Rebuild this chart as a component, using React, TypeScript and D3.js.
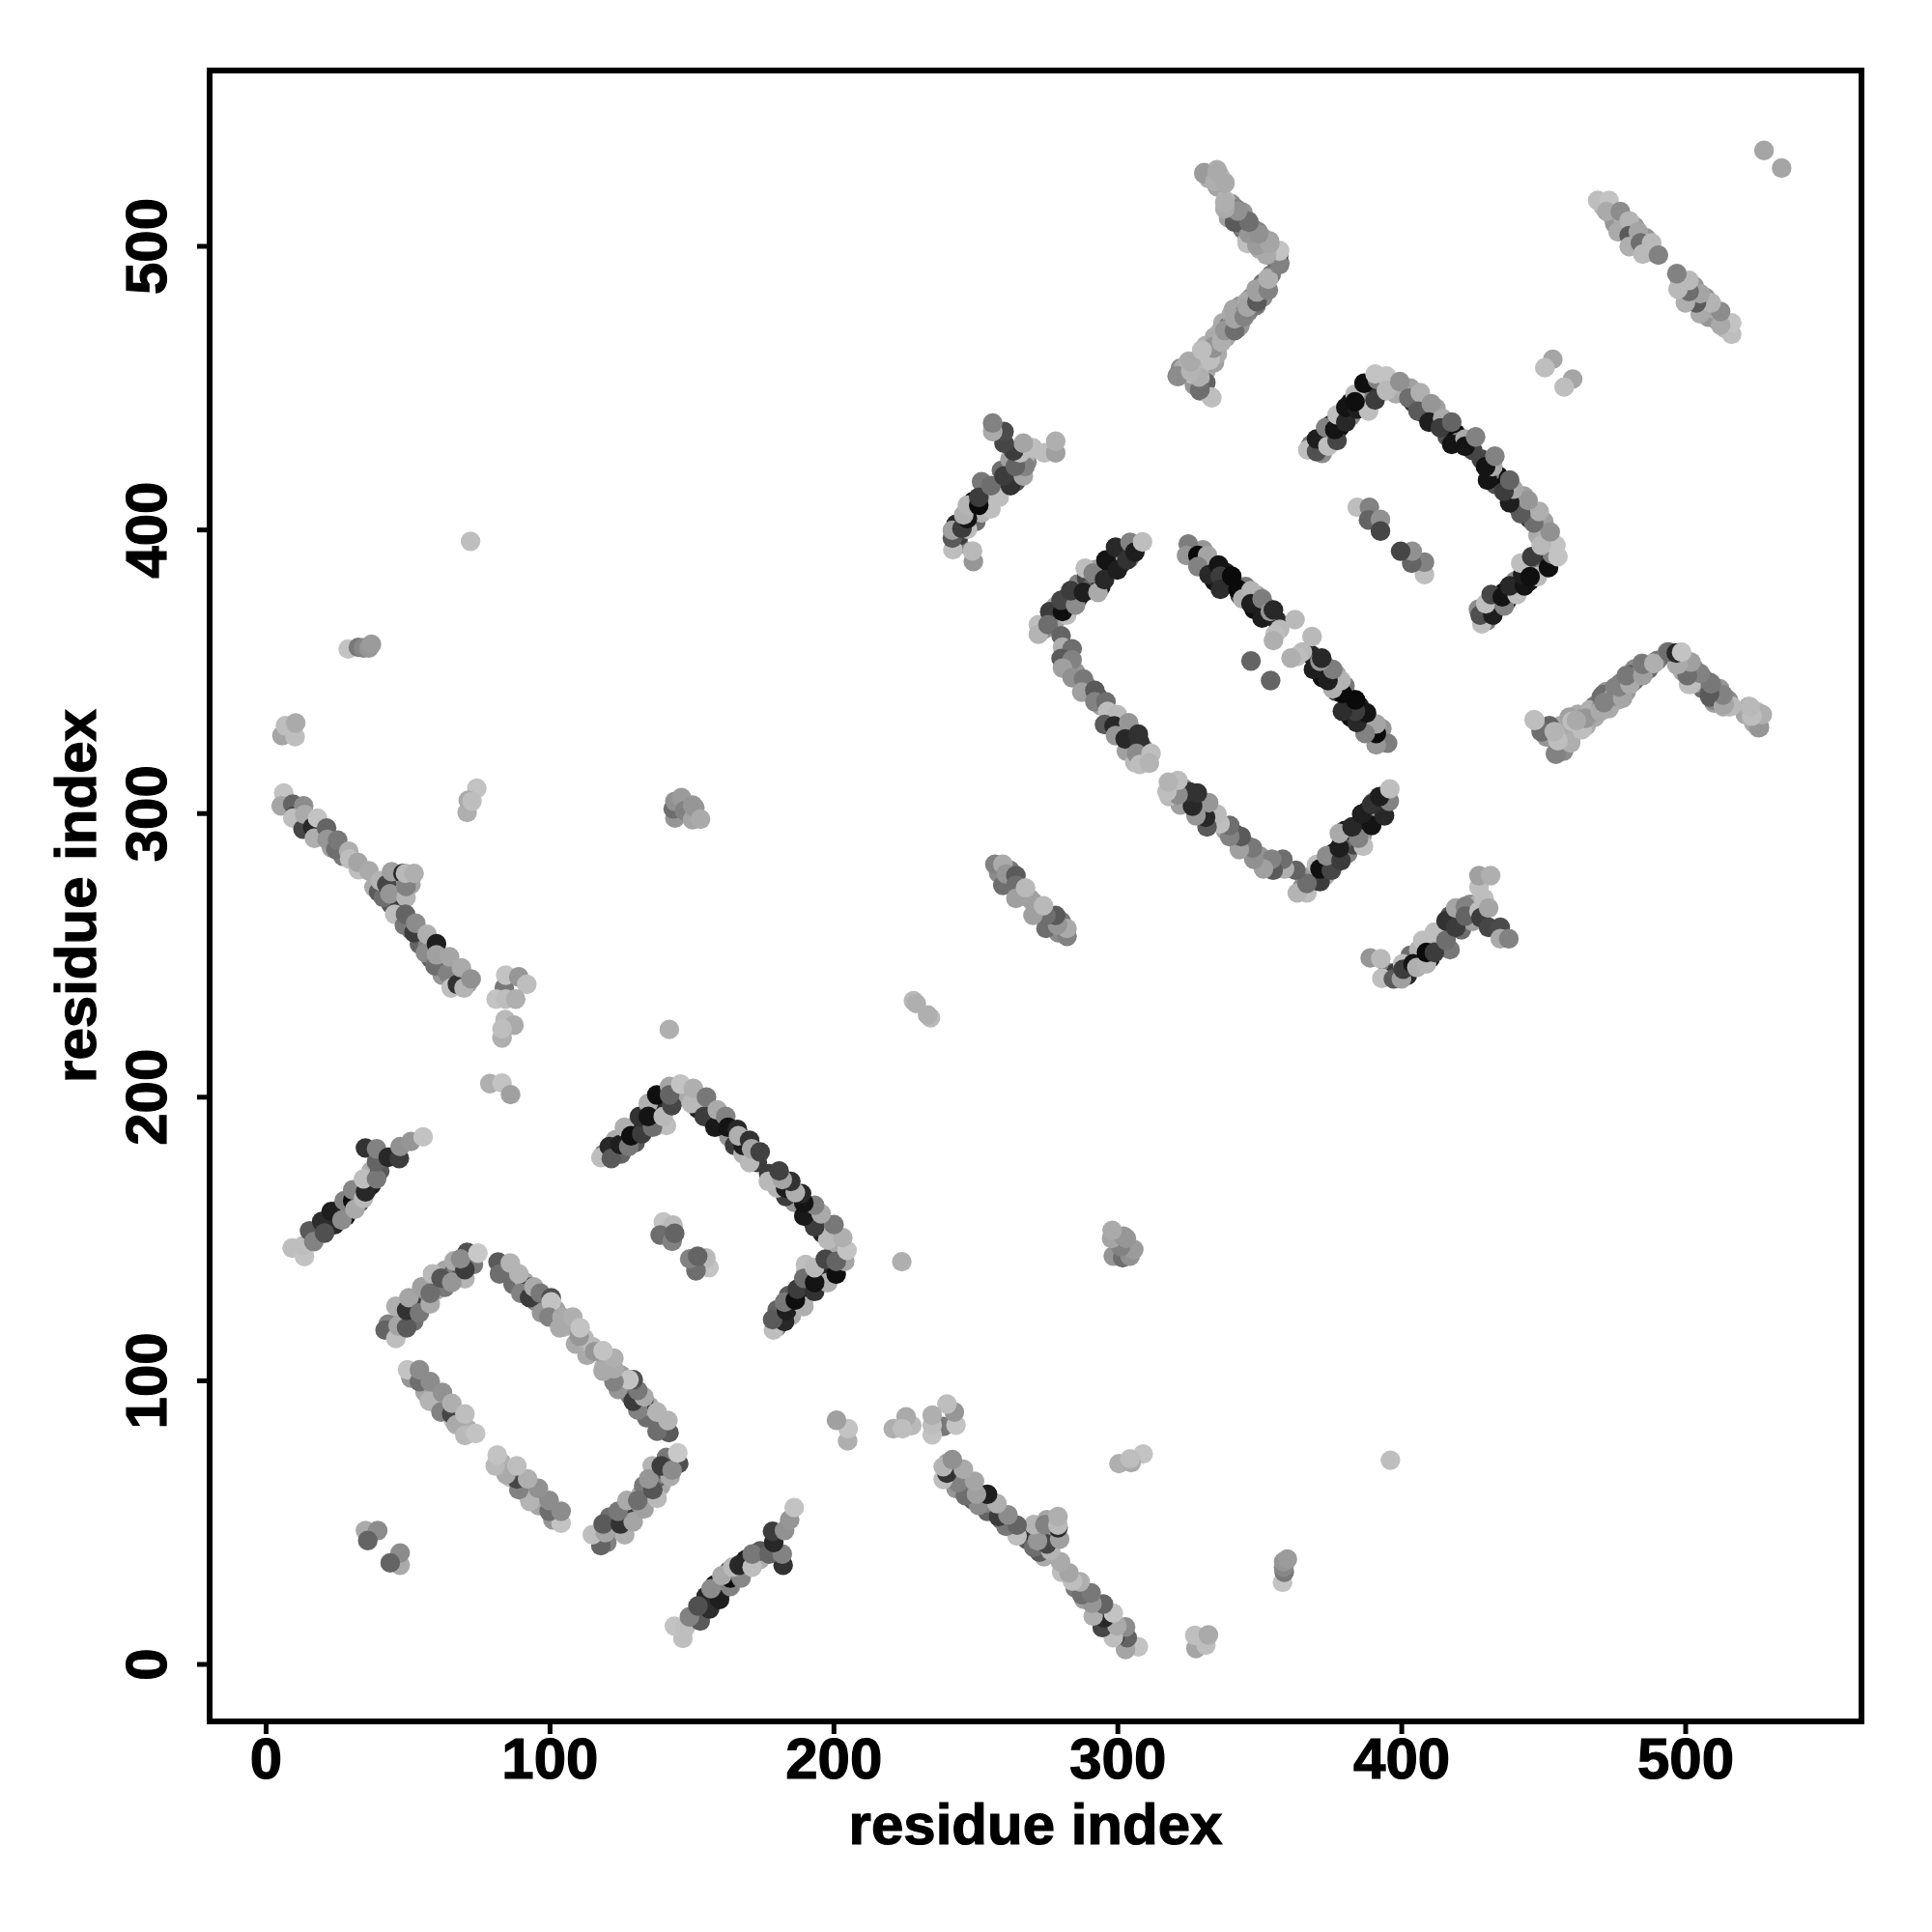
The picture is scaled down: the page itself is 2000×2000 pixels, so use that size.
import React from "react";
import * as d3 from "d3";

// Each contact: [residue i, residue j, grey level]. The map is symmetric, so each list is also drawn mirrored.
type C = [number, number, number];

const tickValues = [0, 100, 200, 300, 400, 500];
const axisTitle = "residue index";

// Under-layer: contacts that are mostly hidden by the ones drawn after them.
const underA: C[] = [[11,300,150],[15,296,50],[19,293,130],[23,288,160],[27,285,120],[44,268,90],[47,267,60],[46,274,40],[47,276,60],[51,259,120],[54,254,100],[57,254,130],[58,249,90],[62,247,120],[62,243,150],[66,243,100],[67,244,110],[71,240,160],[45,276,170],[38,274,170],[51,275,165]];
const underB: C[] = [[18,152,60],[21,156,150],[24,155,40],[25,160,100],[28,158,20],[29,161,170],[33,163,90],[32,166,60],[36,168,150],[37,174,175],[40,174,90],[37,169,30]];
const underC: C[] = [[43,120,130],[48,122,150],[52,121,110],[51,127,90],[53,128,170],[56,127,60],[56,132,140],[60,132,170],[60,135,70],[63,133,120],[63,139,165],[66,138,100],[67,138,130],[70,136,180],[72,142,50],[68,141,90],[73,141,120],[51,101,150],[56,96,165],[59,93,130],[60,92,170],[63,90,180],[66,86,190],[68,86,120],[71,83,175]];
const underD: C[] = [[84,139,140],[87,134,110],[91,135,170],[93,133,60],[92,131,175],[95,128,130],[98,127,70],[97,124,150],[102,125,160],[105,119,180],[107,120,165],[109,113,170],[112,115,185]];
const underE: C[] = [[119,180,130],[123,180,50],[125,180,100],[123,185,170],[127,185,40],[130,184,90],[130,190,170],[133,190,30],[136,192,60],[138,195,20],[140,198,40],[138,190,180],[141,190,190],[147,200,170],[152,199,140],[152,196,35],[156,196,180],[157,192,50],[160,191,190],[163,186,150],[165,183,60],[168,180,180],[168,183,30],[172,178,100],[173,177,60]];
const underJ: C[] = [[274,365,140],[278,368,160],[278,373,170],[282,370,190],[282,376,40],[286,376,20],[286,381,130],[289,383,70],[290,379,100],[292,386,160],[294,380,30],[297,386,20],[298,390,170],[301,388,20],[301,392,150],[305,393,60],[306,395,110],[304,390,120]];
const underK: C[] = [[282,356,70],[282,351,130],[285,350,150],[289,345,130],[293,341,70],[294,338,160],[297,334,70],[301,330,60],[300,332,190],[304,329,20],[305,324,100],[309,323,130],[303,322,160],[310,318,175],[306,318,185]];
const underM: C[] = [[326,393,100],[330,389,40],[330,393,150],[333,388,130],[334,382,15],[338,385,30],[338,381,40],[341,381,25],[343,377,70],[345,380,120],[348,372,15],[349,377,165],[352,373,90],[352,370,20],[356,368,40],[357,365,185]];
const underO: C[] = [[322,457,140],[327,452,150],[331,456,170],[331,452,100],[334,459,160],[335,466,150],[338,468,120],[337,473,170],[342,471,110],[343,479,150],[346,478,140],[347,482,110],[350,482,140],[351,487,110],[354,490,120],[332,524,170],[336,525,190],[340,515,140],[340,510,130],[344,506,110],[344,512,150],[347,504,150],[351,503,140],[350,499,170],[354,500,130],[355,496,90]];
const underP: C[] = [[368,430,120],[372,431,20],[372,427,140],[375,433,150],[375,437,30],[378,436,10],[379,441,30],[382,440,140],[382,445,15],[385,446,40],[386,444,20],[387,449,30],[389,447,130],[389,452,50],[396,452,150],[398,448,170],[401,450,175],[403,450,160],[404,445,50],[407,444,130],[408,441,30],[411,441,20],[412,443,160],[415,437,20],[416,433,80],[419,434,15],[420,431,130],[424,430,40],[425,428,70]];
const underS: C[] = [[471,514,180],[474,511,150],[475,508,150],[478,506,100],[478,510,170],[482,502,130],[482,507,150],[486,499,170],[486,503,150],[488,498,140]];
const underT: C[] = [[395,244,130],[398,244,60],[402,243,40],[403,250,110],[406,248,30],[406,252,180],[409,254,150],[410,249,20],[413,253,30],[413,257,160],[416,258,90],[417,252,120],[417,264,80],[420,262,40],[421,259,110],[424,265,110],[424,268,140],[425,262,160],[427,268,180],[429,270,190]];
const underU: C[] = [[451,327,150],[457,323,170],[458,329,190],[461,329,180],[462,335,170],[465,331,175],[468,338,165],[468,334,170],[472,339,120],[472,343,150],[476,340,170],[477,346,130],[481,346,160],[482,351,140],[486,351,150],[499,355,180],[502,350,170],[503,351,155],[506,348,140],[507,344,130],[510,343,120],[510,339,160],[524,332,170],[521,335,165]];
const underH: C[] = [[258,279,140],[262,276,120],[262,280,120],[266,272,120],[269,270,160]];

const bandA: C[] = [[6.2,307.2,195],[5.3,302.7,165],[9.4,303.3,100],[9.8,299,60],[13.2,302.7,140],[9.4,298.4,190],[13,294.5,70],[13.6,299.7,170],[16.4,295.2,40],[17,291.3,175],[18.1,298.4,195],[21.3,294.9,100],[21.5,290.9,150],[24.6,287.3,110],[25.2,290.6,120],[29.1,286.7,175],[29.4,284,190],[32.5,280.2,190],[32.3,282.8,165],[36.2,279.8,170],[39.6,272.4,90],[41.3,270.4,110],[40.2,276.3,180],[42.5,275,70],[43.6,271.7,150],[44.2,279.5,160],[48.2,278.9,40],[49.3,270.4,180],[49.3,274.3,130],[49.1,278.9,185],[52.1,278.9,175],[45.3,264.5,190],[48.7,260.6,120],[49.1,264.5,100],[52.1,258,60],[52.7,261.3,140],[56.1,250.9,140],[56.7,257.4,175],[59.5,246.3,110],[60,254.1,30],[60,250.2,160],[64,243.7,130],[64.6,249.5,165],[65.2,238.5,190],[67.4,239.8,50],[68.8,245.6,170],[69.7,238.5,180],[72.2,241.7,145]];
const farLeft: C[] = [[28.9,358,195],[32.5,358.6,120],[34.3,358.4,135],[36.2,358.4,150],[37.1,359.7,155],[5.6,327.5,165],[6.8,331,190],[10.2,327.1,190],[10.4,331.9,170],[74.2,308.9,195],[70.8,300.4,175],[71.2,304.7,170],[72.5,304.3,190],[72,396,190]];
const clusterNear: C[] = [[83.9,238.5,120],[84.4,243,195],[89,242.4,150],[91.8,239.8,190],[81,234.6,195],[84.4,234.6,190],[87.9,234.6,175],[83.1,220.9,175],[84.2,227.4,185],[87.3,225.4,170],[83.1,224.1,190],[78.8,204.8,175],[83.1,205,195],[86.1,200.9,160],[142,223.9,175],[144,298.4,150],[143.4,301.7,110],[144,304.3,145],[146.3,305.6,155],[147.4,301,130],[150.2,297.8,165],[150.2,303,150],[151,302,150],[153,298,170]];
const bandB: C[] = [[9.2,146.8,190],[13.5,143.8,195],[13,147.6,190],[15.3,152.9,90],[16.8,149.1,130],[19.6,156.2,45],[20.6,152.1,80],[22.9,159.7,30],[26.7,156.7,140],[27.5,163.5,130],[30.5,163.5,15],[31.3,160.5,170],[30.5,167.3,135],[34.3,164.3,185],[35,166.6,40],[34.3,171.2,190],[38.9,171.2,120],[35,182.1,50],[38.9,177.2,100],[38.9,181.8,130],[43,178.8,40],[46.9,178.4,60],[47.2,182.6,145],[51,184.4,150],[55.3,186,195]];
const bandC: C[] = [[41.9,117.9,100],[45.7,114.9,190],[46.5,119.4,165],[49.5,118.7,90],[45.7,126.3,175],[49.5,124.8,50],[50.3,129.3,165],[54,124,120],[54.8,133.1,160],[57.8,127.1,170],[57.8,130.9,110],[58.6,137.7,185],[61.6,136.2,85],[65.4,134.7,150],[66.2,142.3,170],[70,139.2,60],[70.8,145.3,80],[68.5,143,140],[74.6,145,200]];
const bandC2: C[] = [[49.8,103.9,195],[54,99.7,110],[54,103.9,140],[57.5,92.9,180],[57.8,99.7,140],[61.6,89,130],[62.1,95.9,145],[65.4,88.3,70],[65.4,92.1,175],[67,84.5,170],[70,88.3,190],[70,80.7,185],[73.8,81.4,195]];
const bandD: C[] = [[81.7,141.9,90],[82.2,137.7,110],[86,141.5,180],[89,137.7,180],[89.7,130.9,130],[92.8,129.3,60],[94.3,133.1,170],[96.6,130.9,120],[100.4,129.3,80],[100.4,127.8,195],[99.6,122.5,130],[104.2,122.5,170],[103.4,118.7,170],[108,122.5,175],[110.3,115.7,150],[110.6,118.7,195]];
const smallNear: C[] = [[35,47.2,170],[39.3,47.2,140],[35.8,43.7,100],[139.9,156,195],[143.3,154.9,185],[138.8,151.4,110],[143,149.2,130],[143.9,152,100],[228,234,185],[229,233,175]];
const bandE: C[] = [[117.9,178.7,190],[120.9,182.6,40],[121.6,178.4,90],[124.7,183.3,30],[127.7,182.6,120],[126.2,189.4,175],[128.5,186.4,15],[132.3,187.1,60],[131.5,193.2,50],[136.1,189.4,110],[134.6,197.8,175],[134.6,193.2,20],[139.9,193.2,185],[137.6,200.8,15],[142.9,197,70],[142.1,203.8,165],[142.1,200.8,100]];
const bandE2: C[] = [[146,204.6,195],[149.8,197.8,185],[150.5,203.1,175],[154.3,193.2,60],[155.1,200,120],[158.1,189.4,25],[158.9,195.5,170],[161.9,193.2,130],[162.7,189.4,20],[166,188.6,40],[166.4,186.4,175],[170.3,184.8,50],[170.3,176.9,185],[171,181.8,165],[174,180.7,65]];
const bandH: C[] = [[256.7,282.1,130],[259.5,282.1,170],[259.5,274.7,110],[260.7,278.7,150],[264.1,278.1,90],[264.1,274.7,110],[264.1,270.1,160],[267.5,273.8,185]];
const bandJ: C[] = [[272,366.6,190],[272,363.2,180],[276,371.2,60],[275.4,366.6,110],[280.5,371.2,15],[280,375.2,70],[285.1,373.5,140],[283.4,378.6,60],[287.9,378,30],[288.5,386.5,190],[293,378,170],[291.3,384.8,130],[295.3,382.5,40],[295.8,389.4,20],[299.8,385.9,30],[299.2,393.9,40],[303.2,389.4,50],[304.3,395.6,130],[306,392.2,30],[308.7,395.8,190]];
const bandK: C[] = [[280,362.7,100],[280.5,358.7,175],[283.9,358.1,110],[280,354.7,90],[283.9,354.2,130],[280.5,351.3,160],[283.9,347.9,145],[287.9,347.4,120],[287.3,342.8,160],[291.9,343.4,90],[291.9,339.4,130],[295.8,339.4,110],[296.4,336,190],[299.8,334.9,185],[295.3,331.4,90],[298.7,330.9,40],[303.8,332,150],[299.2,327.5,150],[302.6,326.3,40],[307.2,328,50],[307.7,325.2,50],[306.6,321.2,140],[311.7,321.2,190],[307.7,317.3,190],[311.1,317.8,180]];
const bandM: C[] = [[324.8,395,125],[324.2,391,150],[328.2,391,10],[331.6,391,165],[328.2,387.1,130],[332.1,384.2,40],[335.5,387.6,20],[336.1,383.7,60],[336.1,379.1,45],[340.1,383.7,10],[342.3,379.1,10],[344,375.7,175],[346.9,378.6,180],[346.9,374,30],[350.8,375.7,125],[350.8,368.9,30],[353.7,371.2,150],[354.8,371.8,40],[355.4,363.2,190],[354.8,361,175],[362.4,368.4,185],[346.9,353.8,100]];
const bandO: C[] = [[320.9,454.3,130],[324.9,459.5,175],[325.7,455,190],[328.9,449.1,110],[328.9,453.7,180],[332.8,446.9,190],[329.6,463.4,190],[333.6,464.7,150],[332.8,461.5,170],[336,469.9,170],[339.1,471.2,130],[341.5,475.2,130],[340.7,477.8,165],[344.7,476.5,130],[345.5,480.4,170],[348.7,479.1,120],[348.7,484.9,160],[352.6,484.9,120],[352.9,488.8,175]];
const bandO2: C[] = [[330.4,526,150],[334.9,527,175],[334.4,523.4,190],[337.6,522.7,185],[337.9,516.2,185],[338.4,513.6,165],[341.8,513.2,130],[342.3,508.4,90],[345.8,509,120],[345.5,501.9,190],[349.4,505.1,130],[348.7,500.6,110],[353.4,501.9,160],[352.6,497.3,170],[357,494,110],[356.6,496.7,40],[356.9,498.6,195]];
const bandP: C[] = [[366.9,428.2,190],[370,427.6,80],[370,432.1,30],[374,429.6,190],[373.2,436.1,130],[377.2,431.5,70],[376.4,435.4,20],[377.2,440.6,190],[380.3,438,40],[380.3,443.2,20],[384.3,442.6,30],[383.5,447.8,185],[388.3,441.9,190],[383.5,445.2,15],[386.7,451.7,15],[390.6,445.8,60],[391.4,453,130],[390.6,455,195]];
const bandP2: C[] = [[394.6,454.3,195],[394.6,449.1,185],[399.3,452.3,145],[402.5,446.5,110],[406.5,448.4,175],[405.7,441.9,90],[410.4,444.5,150],[409.6,438,30],[414.4,439.3,170],[413.6,436,60],[417.6,438,100],[417.6,430.2,20],[422.3,432.1,170],[422.3,429.5,20],[426,432.8,130]];
const smallFar: C[] = [[384.3,408,190],[388.6,408,130],[388.3,403.5,100],[392.5,403.7,145],[392.5,399.6,70],[453.2,460.2,165],[450.4,457.2,190],[527.6,533.8,165]];
const bandS: C[] = [[469,516.2,190],[473,516.2,195],[472.2,512.3,170],[477,512.3,140],[476.2,505.1,170],[480.1,509,180],[480.1,503.8,90],[483.3,505.1,165],[480.1,499.9,175],[484.1,501.2,110],[488,501.2,185],[484.9,497.3,185],[490.4,496.9,130]];
const bandT: C[] = [[388.9,249.1,150],[392.6,248.8,185],[393,241.9,190],[397.1,241.7,90],[399.9,241.7,160],[400.3,247,190],[400.5,245.1,60],[404,247,20],[405.3,245.7,175],[407.4,255.3,190],[408.7,247,180],[408.7,251,10],[411.5,258.2,190],[411.5,251,60],[415.6,255.3,110],[415.6,262.2,50],[419,259.9,60],[419,266.7,165],[422.4,267.3,130],[422.4,263.9,100],[427.2,265.6,190],[427.2,274.1,190],[427.2,278.1,160],[431.3,278.1,175],[427.9,263.3,60],[430.6,266.7,165],[430.6,259.9,70],[434.7,259.9,75],[434.7,255.9,170],[437.7,255.9,130]];
const bandU: C[] = [[446.6,333.1,190],[449.4,328.9,110],[453.9,328.6,175],[454.1,321.2,140],[455.9,325.7,180],[459.3,325.7,170],[460,332.5,190],[464.1,333.7,145],[463.4,329.7,190],[466.2,336.5,175],[470.3,337.7,150],[470.3,341.1,110],[474.4,341.1,165],[475.1,344.5,130],[478.5,345.6,165],[480.5,349,90],[483.9,349,160],[484.6,353,130],[488.4,353,175],[493.5,356.9,130],[498.3,356.9,195],[496.9,352.4,170],[501,345.6,190],[500.3,349,155],[501,353.5,165],[504.4,346.2,150],[504.4,349.6,145],[508.5,341.1,90],[508.5,346.2,110],[512.4,342.2,145],[513.3,337.7,170],[515.4,337.7,175],[525.6,330.3,155],[522.9,334.2,175],[522.2,337.7,170],[526.3,335,170]];

const under: C[] = [underA, underB, underC, underD, underE, underH, underJ, underK, underM, underO, underP, underS, underT, underU].flat();
const contacts: C[] = [bandA, farLeft, clusterNear, bandB, bandC, bandC2, bandD, smallNear, bandE, bandE2, bandH, bandJ, bandK, bandM, bandO, bandO2, bandP, bandP2, smallFar, bandS, bandT, bandU].flat();
const swap = ([i, j, g]: C): C => [j, i, g];

const x = d3.scaleLinear().domain([0, 500]).range([275.5, 1745]);
const y = d3.scaleLinear().domain([0, 500]).range([1723, 255]);

const box = { left: 217, right: 1927, top: 73, bottom: 1782 };
const font = "'Liberation Sans', Arial, Helvetica, sans-serif";
const fs = 60;

export default function App() {
  const all = [...under, ...under.map(swap), ...contacts, ...contacts.map(swap)];
  return (
    <svg width={2000} height={2000} style={{ position: "absolute", left: 0, top: 0, background: "#fff" }}>
      {all.map(([i, j, g], k) => (
        <circle key={k} cx={x(i)} cy={y(j)} r={10.2} fill={d3.rgb(g, g, g).formatHex()} />
      ))}
      <rect x={box.left} y={box.top} width={box.right - box.left} height={box.bottom - box.top} fill="none" stroke="#000" strokeWidth={6} />
      <g fontFamily={font} fontWeight="bold" fontSize={fs} fill="#000" stroke="#000" strokeWidth={1.2}>
        {tickValues.map((t) => (
          <g key={t}>
            <line x1={x(t)} x2={x(t)} y1={box.bottom} y2={box.bottom + 13} strokeWidth={5} />
            <text x={x(t)} y={1841} textAnchor="middle">{t}</text>
            <line y1={y(t)} y2={y(t)} x1={box.left} x2={box.left - 13} strokeWidth={5} />
            <text transform={`translate(172,${y(t)}) rotate(-90)`} textAnchor="middle">{t}</text>
          </g>
        ))}
        <text x={(box.left + box.right) / 2} y={1909} textAnchor="middle">{axisTitle}</text>
        <text transform={`translate(99,${(box.top + box.bottom) / 2}) rotate(-90)`} textAnchor="middle">{axisTitle}</text>
      </g>
    </svg>
  );
}
